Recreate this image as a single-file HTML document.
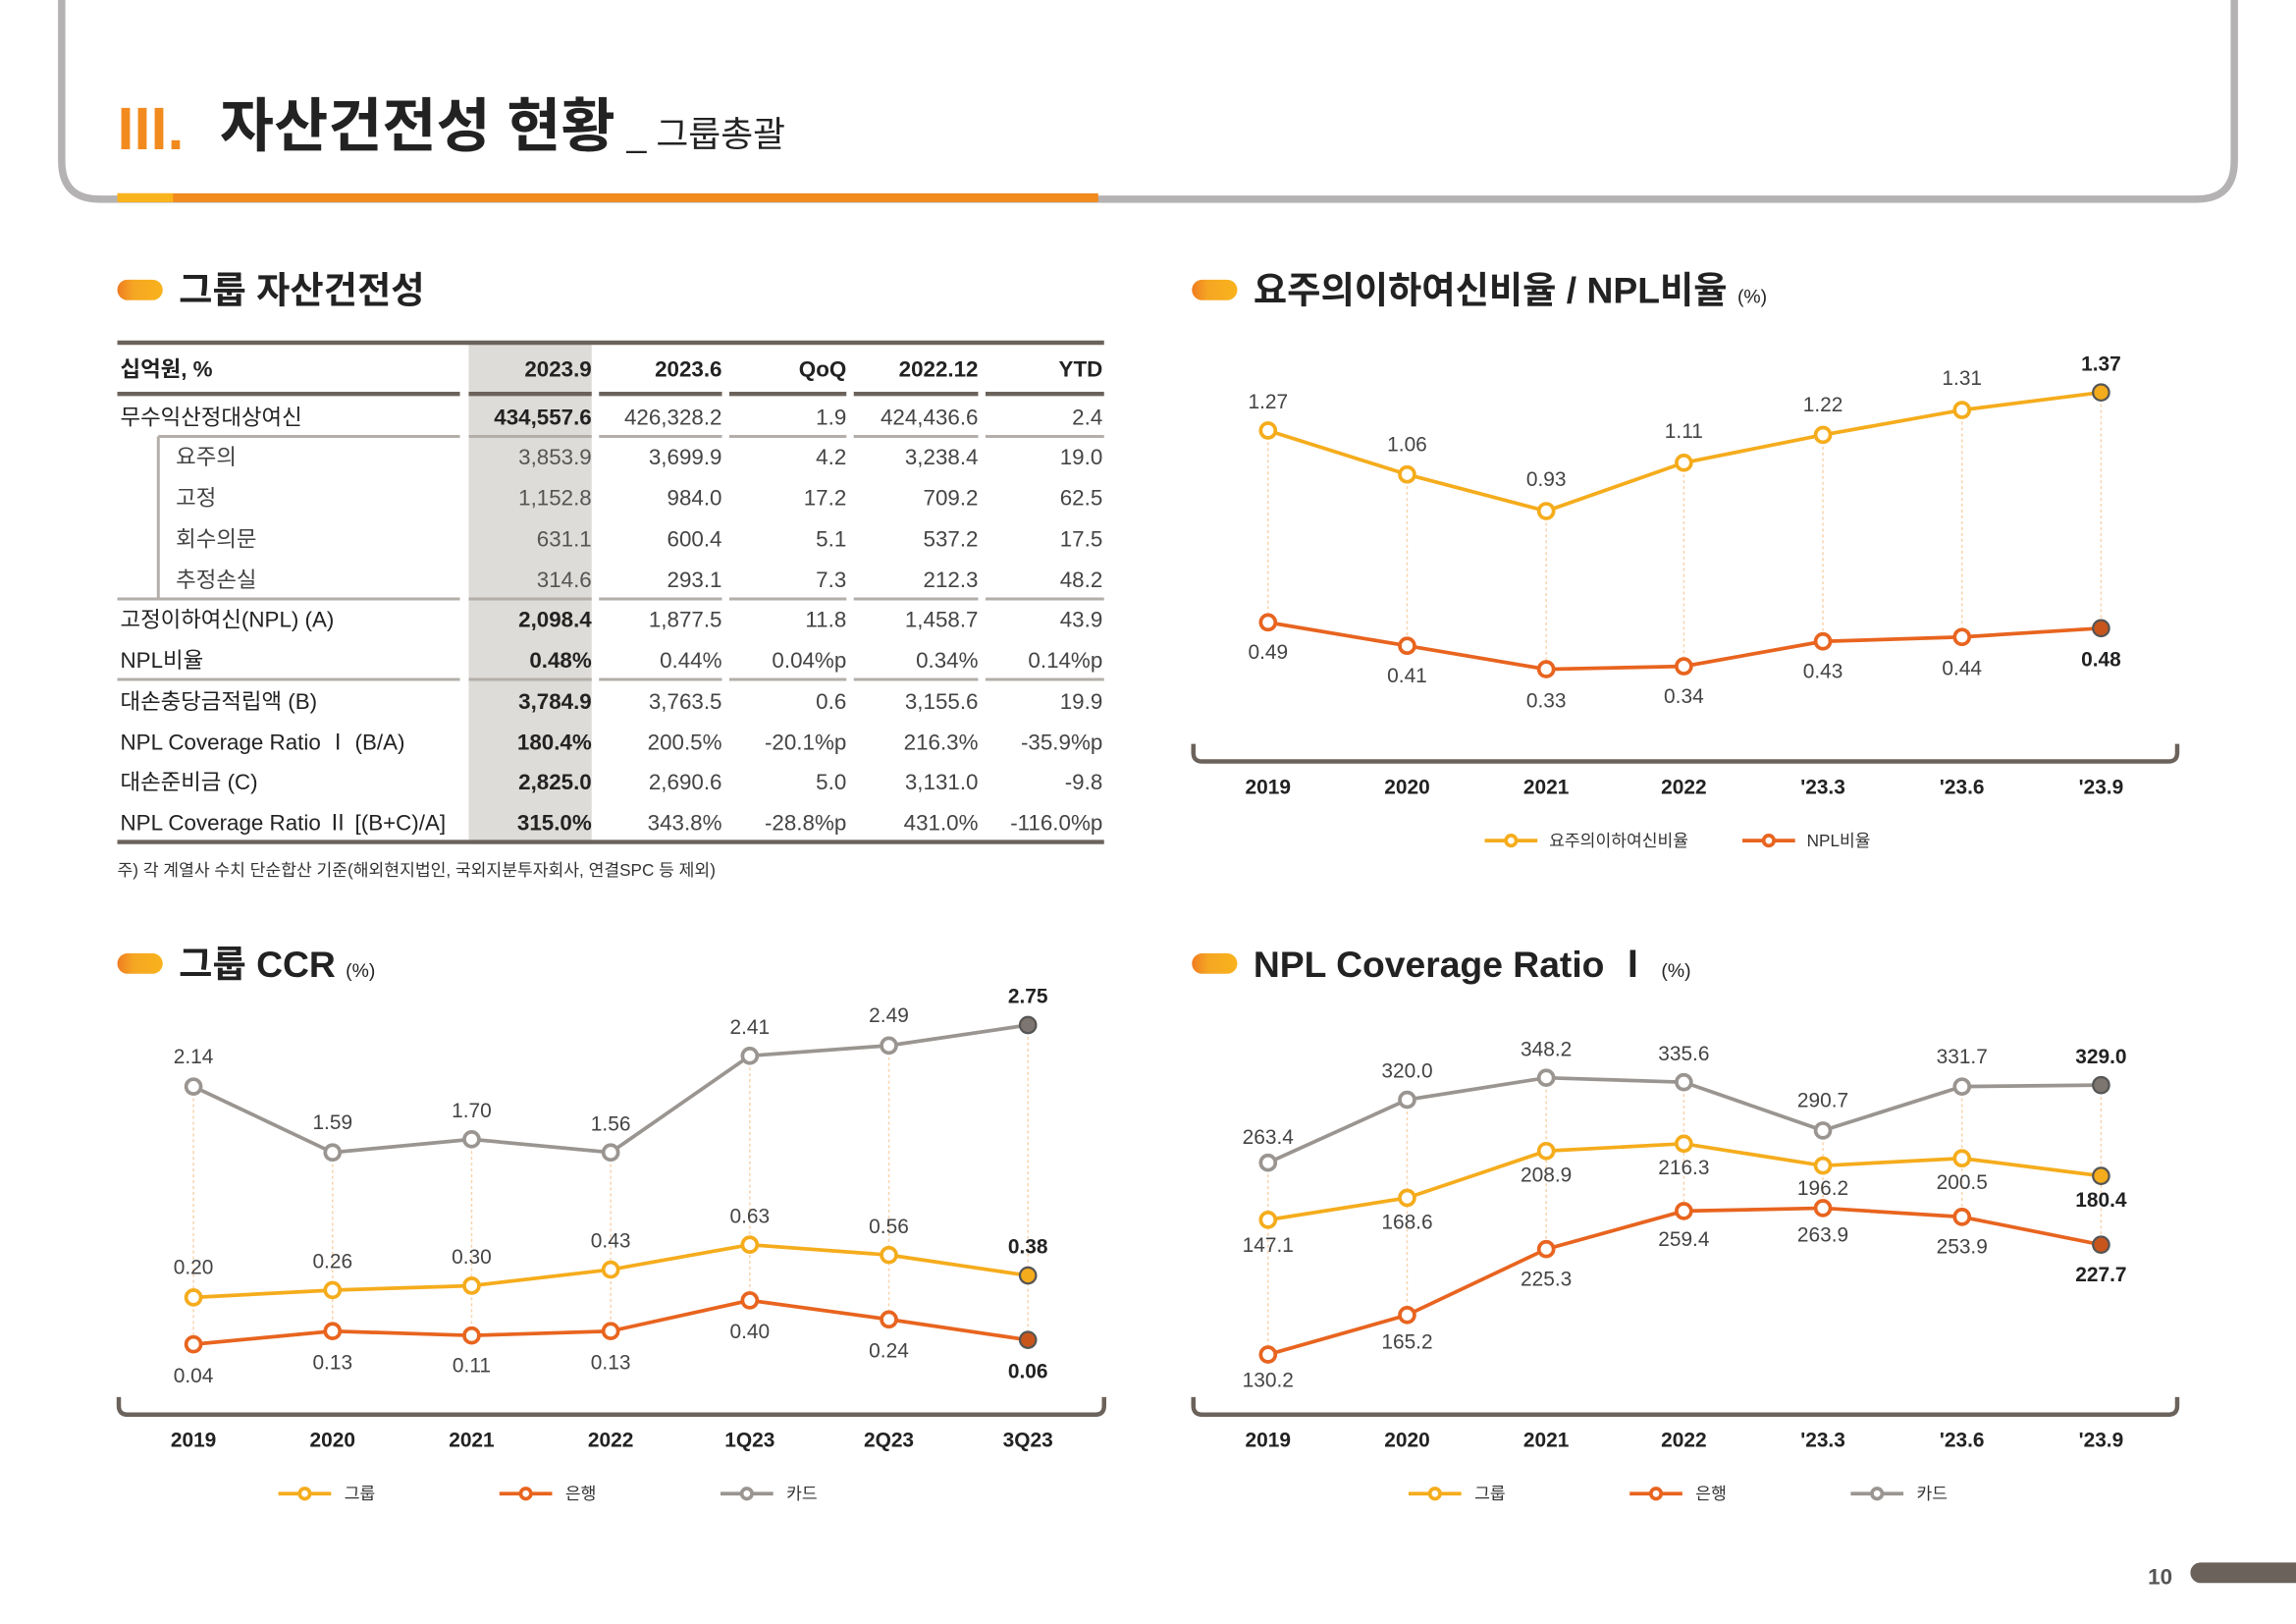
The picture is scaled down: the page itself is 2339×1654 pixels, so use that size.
<!DOCTYPE html>
<html><head><meta charset="utf-8"><style>
html,body{margin:0;padding:0;background:#fff;}
svg{display:block;font-family:"Liberation Sans","Noto Sans CJK KR",sans-serif;}
</style></head><body>
<svg width="2339" height="1654" viewBox="0 0 1568 1109" xmlns="http://www.w3.org/2000/svg">
<defs>
<linearGradient id="pill" x1="0" x2="1"><stop offset="0" stop-color="#f07c22"/><stop offset="0.35" stop-color="#f5a623"/><stop offset="1" stop-color="#f9b31c"/></linearGradient>
</defs>
<rect width="1568" height="1109" fill="#fff"/>
<path d="M42 0 V110 Q42 136 68 136 H1500 Q1526 136 1526 110 V0" fill="none" stroke="#b4b2b3" stroke-width="5"/>
<line x1="80" y1="135" x2="750" y2="135" stroke="#f28a1e" stroke-width="6"/>
<line x1="80" y1="135" x2="118" y2="135" stroke="#f9b31c" stroke-width="6"/>
<text x="80" y="102" font-size="41" font-weight="bold" fill="#f28a1e">III.</text>
<text x="150" y="100" font-size="40" font-weight="bold" fill="#222" textLength="270" lengthAdjust="spacingAndGlyphs">자산건전성 현황</text>
<text x="428" y="100" font-size="24" fill="#222">_ 그룹총괄</text>

<g font-weight="bold" fill="#222">
<rect x="80" y="191" width="31" height="14" rx="7" fill="url(#pill)"/>
<text x="122" y="207" font-size="25">그룹 자산건전성</text>
<rect x="814" y="191" width="31" height="14" rx="7" fill="url(#pill)"/>
<text x="856" y="207" font-size="25">요주의이하여신비율 / NPL비율 <tspan font-size="13" font-weight="normal">(%)</tspan></text>
<rect x="80" y="651" width="31" height="14" rx="7" fill="url(#pill)"/>
<text x="122" y="667" font-size="25">그룹 CCR <tspan font-size="13" font-weight="normal">(%)</tspan></text>
<rect x="814" y="651" width="31" height="14" rx="7" fill="url(#pill)"/>
<text x="856" y="667" font-size="25">NPL Coverage Ratio Ⅰ <tspan font-size="13" font-weight="normal">(%)</tspan></text>
</g>

<rect x="320" y="233" width="84" height="342" fill="#dedcd8"/>
<g stroke="#6b625b" stroke-width="3">
<line x1="80" y1="234" x2="754" y2="234"/>
<line x1="80" y1="575" x2="754" y2="575"/>
<line x1="80" y1="269" x2="314" y2="269"/><line x1="320" y1="269" x2="404" y2="269"/><line x1="409" y1="269" x2="493" y2="269"/><line x1="498" y1="269" x2="578" y2="269"/><line x1="583" y1="269" x2="668" y2="269"/><line x1="673" y1="269" x2="754" y2="269"/>
</g>
<g stroke="#b3aea8" stroke-width="2">
<line x1="108" y1="298" x2="314" y2="298"/><line x1="320" y1="298" x2="404" y2="298"/><line x1="409" y1="298" x2="493" y2="298"/><line x1="498" y1="298" x2="578" y2="298"/><line x1="583" y1="298" x2="668" y2="298"/><line x1="673" y1="298" x2="754" y2="298"/>
<line x1="80" y1="409" x2="314" y2="409"/><line x1="320" y1="409" x2="404" y2="409"/><line x1="409" y1="409" x2="493" y2="409"/><line x1="498" y1="409" x2="578" y2="409"/><line x1="583" y1="409" x2="668" y2="409"/><line x1="673" y1="409" x2="754" y2="409"/>
<line x1="80" y1="464" x2="314" y2="464"/><line x1="320" y1="464" x2="404" y2="464"/><line x1="409" y1="464" x2="493" y2="464"/><line x1="498" y1="464" x2="578" y2="464"/><line x1="583" y1="464" x2="668" y2="464"/><line x1="673" y1="464" x2="754" y2="464"/>
<line x1="108" y1="298" x2="108" y2="409"/>
</g>
<g font-size="15" fill="#222">
<text x="82" y="257" font-weight="bold">십억원, %</text>
<g text-anchor="end" font-weight="bold"><text x="404" y="257">2023.9</text><text x="493" y="257">2023.6</text><text x="578" y="257">QoQ</text><text x="668" y="257">2022.12</text><text x="753" y="257">YTD</text></g>
<g>
<text x="82" y="290">무수익산정대상여신</text>
<text x="120" y="317" fill="#444">요주의</text>
<text x="120" y="345" fill="#444">고정</text>
<text x="120" y="373" fill="#444">회수의문</text>
<text x="120" y="401" fill="#444">추정손실</text>
<text x="82" y="428">고정이하여신(NPL) (A)</text>
<text x="82" y="456">NPL비율</text>
<text x="82" y="484">대손충당금적립액 (B)</text>
<text x="82" y="512">NPL Coverage Ratio Ⅰ (B/A)</text>
<text x="82" y="539">대손준비금 (C)</text>
<text x="82" y="567">NPL Coverage Ratio Ⅱ [(B+C)/A]</text>
</g>
<g text-anchor="end" font-weight="bold">
<text x="404" y="290">434,557.6</text><text x="404" y="428">2,098.4</text><text x="404" y="456">0.48%</text><text x="404" y="484">3,784.9</text><text x="404" y="512">180.4%</text><text x="404" y="539">2,825.0</text><text x="404" y="567">315.0%</text>
</g>
<g text-anchor="end" fill="#555">
<text x="404" y="317">3,853.9</text><text x="404" y="345">1,152.8</text><text x="404" y="373">631.1</text><text x="404" y="401">314.6</text>
</g>
<g text-anchor="end" fill="#444">
<text x="493" y="290">426,328.2</text><text x="578" y="290">1.9</text><text x="668" y="290">424,436.6</text><text x="753" y="290">2.4</text>
<text x="493" y="317">3,699.9</text><text x="578" y="317">4.2</text><text x="668" y="317">3,238.4</text><text x="753" y="317">19.0</text>
<text x="493" y="345">984.0</text><text x="578" y="345">17.2</text><text x="668" y="345">709.2</text><text x="753" y="345">62.5</text>
<text x="493" y="373">600.4</text><text x="578" y="373">5.1</text><text x="668" y="373">537.2</text><text x="753" y="373">17.5</text>
<text x="493" y="401">293.1</text><text x="578" y="401">7.3</text><text x="668" y="401">212.3</text><text x="753" y="401">48.2</text>
<text x="493" y="428">1,877.5</text><text x="578" y="428">11.8</text><text x="668" y="428">1,458.7</text><text x="753" y="428">43.9</text>
<text x="493" y="456">0.44%</text><text x="578" y="456">0.04%p</text><text x="668" y="456">0.34%</text><text x="753" y="456">0.14%p</text>
<text x="493" y="484">3,763.5</text><text x="578" y="484">0.6</text><text x="668" y="484">3,155.6</text><text x="753" y="484">19.9</text>
<text x="493" y="512">200.5%</text><text x="578" y="512">-20.1%p</text><text x="668" y="512">216.3%</text><text x="753" y="512">-35.9%p</text>
<text x="493" y="539">2,690.6</text><text x="578" y="539">5.0</text><text x="668" y="539">3,131.0</text><text x="753" y="539">-9.8</text>
<text x="493" y="567">343.8%</text><text x="578" y="567">-28.8%p</text><text x="668" y="567">431.0%</text><text x="753" y="567">-116.0%p</text>
</g>
</g>
<text x="80" y="598" font-size="11.5" fill="#333">주) 각 계열사 수치 단순합산 기준(해외현지법인, 국외지분투자회사, 연결SPC 등 제외)</text>

<g fill="none" stroke="#6b625b" stroke-width="3">
<path d="M815 508 V514 Q815 520 821 520 H1481 Q1487 520 1487 514 V508"/>
<path d="M81 954 V960 Q81 966 87 966 H748 Q754 966 754 960 V954"/>
<path d="M815 954 V960 Q815 966 821 966 H1481 Q1487 966 1487 960 V954"/>
</g>
<g font-size="14" font-weight="bold" fill="#222" text-anchor="middle">
<text x="866" y="542">2019</text><text x="961" y="542">2020</text><text x="1056" y="542">2021</text><text x="1150" y="542">2022</text><text x="1245" y="542">'23.3</text><text x="1340" y="542">'23.6</text><text x="1435" y="542">'23.9</text>
<text x="132" y="988">2019</text><text x="227" y="988">2020</text><text x="322" y="988">2021</text><text x="417" y="988">2022</text><text x="512" y="988">1Q23</text><text x="607" y="988">2Q23</text><text x="702" y="988">3Q23</text>
<text x="866" y="988">2019</text><text x="961" y="988">2020</text><text x="1056" y="988">2021</text><text x="1150" y="988">2022</text><text x="1245" y="988">'23.3</text><text x="1340" y="988">'23.6</text><text x="1435" y="988">'23.9</text>
</g>

<g stroke="#f8d3ad" stroke-width="1" stroke-dasharray="2,2">
<line x1="866" y1="294" x2="866" y2="425"/><line x1="961" y1="324" x2="961" y2="441"/><line x1="1056" y1="349" x2="1056" y2="457"/><line x1="1150" y1="316" x2="1150" y2="455"/><line x1="1245" y1="297" x2="1245" y2="438"/><line x1="1340" y1="280" x2="1340" y2="435"/><line x1="1435" y1="268" x2="1435" y2="429"/>
<line x1="132" y1="742" x2="132" y2="918"/><line x1="227" y1="787" x2="227" y2="909"/><line x1="322" y1="778" x2="322" y2="912"/><line x1="417" y1="787" x2="417" y2="909"/><line x1="512" y1="721" x2="512" y2="888"/><line x1="607" y1="714" x2="607" y2="901"/><line x1="702" y1="700" x2="702" y2="915"/>
<line x1="866" y1="794" x2="866" y2="925"/><line x1="961" y1="751" x2="961" y2="898"/><line x1="1056" y1="736" x2="1056" y2="853"/><line x1="1150" y1="739" x2="1150" y2="827"/><line x1="1245" y1="772" x2="1245" y2="825"/><line x1="1340" y1="742" x2="1340" y2="831"/><line x1="1435" y1="741" x2="1435" y2="850"/>
</g>

<g fill="none" stroke-width="2.5">
<polyline stroke="#f5ac1c" points="866,294 961,324 1056,349 1150,316 1245,297 1340,280 1435,268"/>
<polyline stroke="#e8641f" points="866,425 961,441 1056,457 1150,455 1245,438 1340,435 1435,429"/>
<polyline stroke="#9a9590" points="132,742 227,787 322,778 417,787 512,721 607,714 702,700"/>
<polyline stroke="#f5ac1c" points="132,886 227,881 322,878 417,867 512,850 607,857 702,871"/>
<polyline stroke="#e8641f" points="132,918 227,909 322,912 417,909 512,888 607,901 702,915"/>
<polyline stroke="#9a9590" points="866,794 961,751 1056,736 1150,739 1245,772 1340,742 1435,741"/>
<polyline stroke="#f5ac1c" points="866,833 961,818 1056,786 1150,781 1245,796 1340,791 1435,803"/>
<polyline stroke="#e8641f" points="866,925 961,898 1056,853 1150,827 1245,825 1340,831 1435,850"/>
</g>
<g fill="#fff" stroke-width="2.5">
<g stroke="#f5ac1c"><circle cx="866" cy="294" r="5"/><circle cx="961" cy="324" r="5"/><circle cx="1056" cy="349" r="5"/><circle cx="1150" cy="316" r="5"/><circle cx="1245" cy="297" r="5"/><circle cx="1340" cy="280" r="5"/>
<circle cx="132" cy="886" r="5"/><circle cx="227" cy="881" r="5"/><circle cx="322" cy="878" r="5"/><circle cx="417" cy="867" r="5"/><circle cx="512" cy="850" r="5"/><circle cx="607" cy="857" r="5"/>
<circle cx="866" cy="833" r="5"/><circle cx="961" cy="818" r="5"/><circle cx="1056" cy="786" r="5"/><circle cx="1150" cy="781" r="5"/><circle cx="1245" cy="796" r="5"/><circle cx="1340" cy="791" r="5"/></g>
<g stroke="#e8641f"><circle cx="866" cy="425" r="5"/><circle cx="961" cy="441" r="5"/><circle cx="1056" cy="457" r="5"/><circle cx="1150" cy="455" r="5"/><circle cx="1245" cy="438" r="5"/><circle cx="1340" cy="435" r="5"/>
<circle cx="132" cy="918" r="5"/><circle cx="227" cy="909" r="5"/><circle cx="322" cy="912" r="5"/><circle cx="417" cy="909" r="5"/><circle cx="512" cy="888" r="5"/><circle cx="607" cy="901" r="5"/>
<circle cx="866" cy="925" r="5"/><circle cx="961" cy="898" r="5"/><circle cx="1056" cy="853" r="5"/><circle cx="1150" cy="827" r="5"/><circle cx="1245" cy="825" r="5"/><circle cx="1340" cy="831" r="5"/></g>
<g stroke="#9a9590"><circle cx="132" cy="742" r="5"/><circle cx="227" cy="787" r="5"/><circle cx="322" cy="778" r="5"/><circle cx="417" cy="787" r="5"/><circle cx="512" cy="721" r="5"/><circle cx="607" cy="714" r="5"/>
<circle cx="866" cy="794" r="5"/><circle cx="961" cy="751" r="5"/><circle cx="1056" cy="736" r="5"/><circle cx="1150" cy="739" r="5"/><circle cx="1245" cy="772" r="5"/><circle cx="1340" cy="742" r="5"/></g>
</g>
<g stroke="#555" stroke-width="1.5">
<circle cx="1435" cy="268" r="5.5" fill="#f5ac1c"/><circle cx="1435" cy="429" r="5.5" fill="#c8561c"/>
<circle cx="702" cy="700" r="5.5" fill="#7d7670"/><circle cx="702" cy="871" r="5.5" fill="#f5ac1c"/><circle cx="702" cy="915" r="5.5" fill="#c8561c"/>
<circle cx="1435" cy="741" r="5.5" fill="#7d7670"/><circle cx="1435" cy="803" r="5.5" fill="#f5ac1c"/><circle cx="1435" cy="850" r="5.5" fill="#c8561c"/>
</g>

<g font-size="14" fill="#444" text-anchor="middle">
<text x="866" y="279">1.27</text><text x="961" y="308">1.06</text><text x="1056" y="332">0.93</text><text x="1150" y="299">1.11</text><text x="1245" y="281">1.22</text><text x="1340" y="263">1.31</text>
<text x="866" y="450">0.49</text><text x="961" y="466">0.41</text><text x="1056" y="483">0.33</text><text x="1150" y="480">0.34</text><text x="1245" y="463">0.43</text><text x="1340" y="461">0.44</text>
<text x="132" y="726">2.14</text><text x="227" y="771">1.59</text><text x="322" y="763">1.70</text><text x="417" y="772">1.56</text><text x="512" y="706">2.41</text><text x="607" y="698">2.49</text>
<text x="132" y="870">0.20</text><text x="227" y="866">0.26</text><text x="322" y="863">0.30</text><text x="417" y="852">0.43</text><text x="512" y="835">0.63</text><text x="607" y="842">0.56</text>
<text x="132" y="944">0.04</text><text x="227" y="935">0.13</text><text x="322" y="937">0.11</text><text x="417" y="935">0.13</text><text x="512" y="914">0.40</text><text x="607" y="927">0.24</text>
<text x="866" y="781">263.4</text><text x="961" y="736">320.0</text><text x="1056" y="721">348.2</text><text x="1150" y="724">335.6</text><text x="1245" y="756">290.7</text><text x="1340" y="726">331.7</text>
<text x="866" y="855">147.1</text><text x="961" y="839">168.6</text><text x="1056" y="807">208.9</text><text x="1150" y="802">216.3</text><text x="1245" y="816">196.2</text><text x="1340" y="812">200.5</text>
<text x="866" y="947">130.2</text><text x="961" y="921">165.2</text><text x="1056" y="878">225.3</text><text x="1150" y="851">259.4</text><text x="1245" y="848">263.9</text><text x="1340" y="856">253.9</text>
</g>
<g font-size="14" font-weight="bold" fill="#222" text-anchor="middle">
<text x="1435" y="253">1.37</text><text x="1435" y="455">0.48</text>
<text x="702" y="685">2.75</text><text x="702" y="856">0.38</text><text x="702" y="941">0.06</text>
<text x="1435" y="726">329.0</text><text x="1435" y="824">180.4</text><text x="1435" y="875">227.7</text>
</g>

<g stroke-width="2.5" fill="#fff">
<line x1="1014" y1="574" x2="1050" y2="574" stroke="#f5ac1c"/><circle cx="1032" cy="574" r="3.5" stroke="#f5ac1c"/>
<line x1="1190" y1="574" x2="1226" y2="574" stroke="#e8641f"/><circle cx="1208" cy="574" r="3.5" stroke="#e8641f"/>
<line x1="190" y1="1020" x2="226" y2="1020" stroke="#f5ac1c"/><circle cx="208" cy="1020" r="3.5" stroke="#f5ac1c"/>
<line x1="341" y1="1020" x2="377" y2="1020" stroke="#e8641f"/><circle cx="359" cy="1020" r="3.5" stroke="#e8641f"/>
<line x1="492" y1="1020" x2="528" y2="1020" stroke="#9a9590"/><circle cx="510" cy="1020" r="3.5" stroke="#9a9590"/>
<line x1="962" y1="1020" x2="998" y2="1020" stroke="#f5ac1c"/><circle cx="980" cy="1020" r="3.5" stroke="#f5ac1c"/>
<line x1="1113" y1="1020" x2="1149" y2="1020" stroke="#e8641f"/><circle cx="1131" cy="1020" r="3.5" stroke="#e8641f"/>
<line x1="1264" y1="1020" x2="1300" y2="1020" stroke="#9a9590"/><circle cx="1282" cy="1020" r="3.5" stroke="#9a9590"/>
</g>
<g font-size="11.5" fill="#333">
<text x="1058" y="578">요주의이하여신비율</text><text x="1234" y="578">NPL비율</text>
<text x="235" y="1024">그룹</text><text x="386" y="1024">은행</text><text x="537" y="1024">카드</text>
<text x="1007" y="1024">그룹</text><text x="1158" y="1024">은행</text><text x="1309" y="1024">카드</text>
</g>

<text x="1467" y="1082" font-size="15" font-weight="bold" fill="#555">10</text>
<rect x="1496" y="1067" width="90" height="14" rx="7" fill="#6b625b"/>
</svg>
</body></html>
